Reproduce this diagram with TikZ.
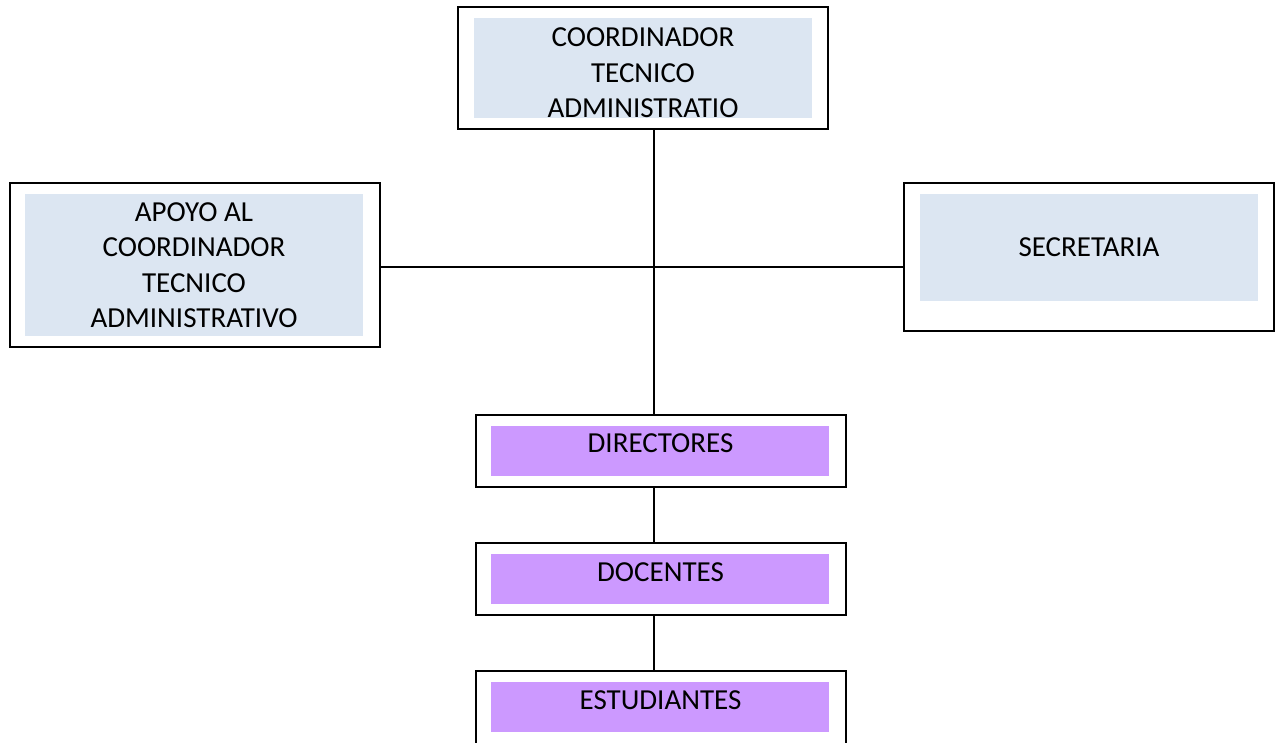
\documentclass[tikz,border=0pt]{standalone}
\usepackage{fontspec}
\setmainfont{Carlito}
\usepackage{xcolor}
\usetikzlibrary{shapes,positioning,calc}
\definecolor{boxblue}{RGB}{220,230,242}
\definecolor{boxpurple}{RGB}{204,153,255}

\begin{document}
\begin{tikzpicture}[x=1pt,y=-1pt,
		frame/.style={draw, line width=1.6pt, rectangle, minimum width=370pt, inner sep=0pt},
		bluefill/.style={fill=boxblue, rectangle, minimum width=338pt, inner sep=0pt},
		purplefill/.style={fill=boxpurple, rectangle, minimum width=338pt, minimum height=50pt, inner sep=0pt},
		txt/.style={align=center, inner sep=0pt, font=\fontsize{29}{35.5}\selectfont},
		link/.style={line width=1.3pt}]
				\useasboundingbox (0,0) rectangle (1282,742);
				
				% Draw the coordinator
				\node[frame, minimum height=122pt] (coord) at (643,68) {};
				\node[bluefill, minimum height=100pt] (coordfill) at (643,68) {};
				\node[txt] (coordtxt) at (643,73) {COORDINADOR\\TECNICO\\ADMINISTRATIO};
				
				% Draw support and secretary
				\node[frame, minimum height=164pt] (apoyo) at (195,265) {};
				\node[bluefill, minimum height=142pt] (apoyofill) at (194,265) {};
				\node[txt] (apoyotxt) at (194,265) {APOYO AL\\COORDINADOR\\TECNICO\\ADMINISTRATIVO};
				
				\node[frame, minimum height=148pt] (secre) at (1089,257) {};
				\node[bluefill, minimum height=107pt] (secrefill) at (1089,247.5) {};
				\node[txt] (secretxt) at (1089,247.5) {SECRETARIA};
				
				% Draw the lower levels
				\node[frame, minimum height=72pt] (dir) at (661,451) {};
				\node[purplefill] (dirfill) at (660,451) {};
				\node[txt] (dirtxt) at (660.5,443) {DIRECTORES};
				
				\node[frame, minimum height=72pt] (doc) at (661,579) {};
				\node[purplefill] (docfill) at (660,579) {};
				\node[txt] (doctxt) at (660.5,572) {DOCENTES};
				
				\node[frame, minimum height=100pt] (est) at (661,721) {};
				\node[purplefill] (estfill) at (660,707) {};
				\node[txt] (esttxt) at (660.5,700) {ESTUDIANTES};
				
				% Draw connections
				\coordinate (hub) at (654,267);
				\draw[link] (coord.south -| hub) -- (dir.north -| hub);
				\draw[link] (apoyo.east |- hub) -- (secre.west |- hub);
				\draw[link] (dir.south -| hub) -- (doc.north -| hub);
				\draw[link] (doc.south -| hub) -- (est.north -| hub);
			\end{tikzpicture}
\end{document}
